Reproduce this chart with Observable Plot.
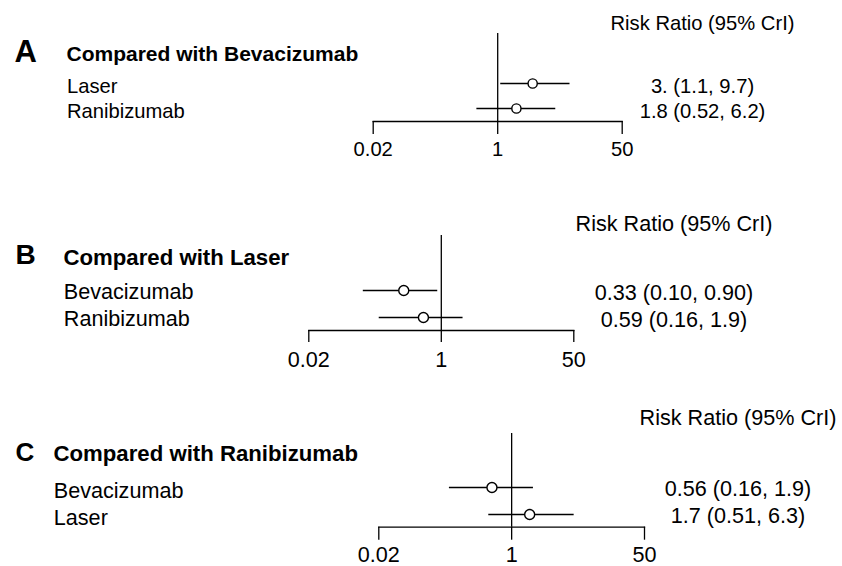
<!DOCTYPE html>
<html><head><meta charset="utf-8">
<script src="https://cdn.jsdelivr.net/npm/d3@7"></script>
<script src="https://cdn.jsdelivr.net/npm/@observablehq/plot@0.6"></script>
<style>
html,body{margin:0;padding:0;background:#fff;}
#chart{position:relative;width:842px;height:566px;overflow:hidden;background:#fff;}
#chart svg{position:absolute;left:0;}
</style></head><body><div id="chart"></div>
<script>
// ---- data ----
const panelLetters = ["A", "B", "C"];
const panelTitles = ["Compared with Bevacizumab", "Compared with Laser", "Compared with Ranibizumab"];
const headerText = "Risk Ratio (95% CrI)";

const rowsA = ["Laser", "Ranibizumab"];
const estA = [3.0, 1.8];
const lowA = [1.1, 0.52];
const highA = [9.7, 6.2];
const ciTextA = ["3. (1.1, 9.7)", "1.8 (0.52, 6.2)"];

const rowsB = ["Bevacizumab", "Ranibizumab"];
const estB = [0.33, 0.59];
const lowB = [0.10, 0.16];
const highB = [0.90, 1.9];
const ciTextB = ["0.33 (0.10, 0.90)", "0.59 (0.16, 1.9)"];

const rowsC = ["Bevacizumab", "Laser"];
const estC = [0.56, 1.7];
const lowC = [0.16, 0.51];
const highC = [1.9, 6.3];
const ciTextC = ["0.56 (0.16, 1.9)", "1.7 (0.51, 6.3)"];

const tickValues = [0.02, 1, 50];
const tickLabels = ["0.02", "1", "50"];

// ---- layout (pixels, panel-local) ----
const W = 842;
const layouts = [
  {top: 0, height: 190, frameTop: 33, rowY: [83, 108.5], axisY: 121, left: 372.7, right: 621.7,
   labelX: 66.5, titleX: 66, letterX: 14, letterBase: 61, titleBase: 60, headerBase: 29, ciX: 702,
   tick: 13, tickBase: 155, font: 20.2, titleFont: 21, letterFont: 31, r: 4.6, labelDy: 9, ciDy: 9.7},
  {top: 190, height: 190, frameTop: 45, rowY: [99.3, 126.7], axisY: 140, left: 308.3, right: 573.3,
   labelX: 63.3, titleX: 63, letterX: 15, letterBase: 73, titleBase: 74, headerBase: 40.7, ciX: 673.5,
   tick: 12, tickBase: 176, font: 21.6, titleFont: 22.2, letterFont: 28, r: 5, labelDy: 8, ciDy: 9.3},
  {top: 380, height: 186, frameTop: 53, rowY: [106.7, 134.3], axisY: 146.7, left: 378.3, right: 644,
   labelX: 53.3, titleX: 53, letterX: 15, letterBase: 80, titleBase: 80, headerBase: 44.3, ciX: 737.5,
   tick: 13, tickBase: 181, font: 21.6, titleFont: 22.2, letterFont: 26, r: 5, labelDy: 10.3, ciDy: 8.6}
];

const panelData = [
  {rows: rowsA, est: estA, low: lowA, high: highA, ci: ciTextA},
  {rows: rowsB, est: estB, low: lowB, high: highB, ci: ciTextB},
  {rows: rowsC, est: estC, low: lowC, high: highC, ci: ciTextC}
];

const FONT = "'Liberation Sans', Arial, Helvetica, sans-serif";
const INK = "#000";
const chart = document.getElementById("chart");

panelData.forEach((p, k) => {
  const L = layouts[k];
  const table = p.rows.map((name, i) => ({name, est: p.est[i], low: p.low[i], high: p.high[i], ci: p.ci[i]}));
  const svg = Plot.plot({
    width: W,
    height: L.height,
    marginTop: L.frameTop,
    marginBottom: L.height - L.axisY,
    marginLeft: L.left,
    marginRight: W - L.right,
    x: {type: "log", domain: [tickValues[0], tickValues[tickValues.length - 1]], axis: null},
    y: {type: "point", domain: p.rows, range: L.rowY, padding: 0, axis: null},
    style: {fontFamily: FONT, background: "white", color: INK, overflow: "visible"},
    marks: [
      Plot.ruleX([1], {stroke: INK, strokeWidth: 1.3}),
      Plot.frame({anchor: "bottom", stroke: INK, strokeWidth: 1.3}),
      Plot.axisX(tickValues, {
        anchor: "bottom", tickSize: L.tick, strokeWidth: 1.3, stroke: INK,
        tickFormat: () => ""
      }),
      Plot.text(tickValues, {
        x: d => d, text: (d, i) => tickLabels[i], frameAnchor: "bottom", textAnchor: "middle", lineAnchor: "bottom",
        dy: L.tickBase - L.axisY, fontSize: L.font, fill: INK
      }),
      Plot.ruleY(table, {y: "name", x1: "low", x2: "high", stroke: INK, strokeWidth: 1.4}),
      Plot.dot(table, {x: "est", y: "name", r: L.r, fill: "white", stroke: INK, strokeWidth: 1.4}),
      Plot.text(table, {y: "name", text: "name", frameAnchor: "left", textAnchor: "start", lineAnchor: "bottom",
        dx: L.labelX - L.left, dy: L.labelDy, fontSize: L.font, fill: INK}),
      Plot.text(table, {y: "name", text: "ci", frameAnchor: "right", textAnchor: "middle", lineAnchor: "bottom",
        dx: L.ciX - L.right, dy: L.ciDy, fontSize: L.font, fill: INK}),
      Plot.text([headerText], {text: d => d, frameAnchor: "top-right", textAnchor: "middle", lineAnchor: "bottom",
        dx: L.ciX - L.right, dy: L.headerBase - L.frameTop, fontSize: L.font, fill: INK}),
      Plot.text([panelTitles[k]], {text: d => d, frameAnchor: "top-left", textAnchor: "start", lineAnchor: "bottom",
        dx: L.titleX - L.left, dy: L.titleBase - L.frameTop, fontSize: L.titleFont, fontWeight: "bold", fill: INK}),
      Plot.text([panelLetters[k]], {text: d => d, frameAnchor: "top-left", textAnchor: "start", lineAnchor: "bottom",
        dx: L.letterX - L.left, dy: L.letterBase - L.frameTop, fontSize: L.letterFont, fontWeight: "bold", fill: INK})
    ]
  });
  svg.style.top = L.top + "px";
  chart.appendChild(svg);
});
</script>
</body></html>
